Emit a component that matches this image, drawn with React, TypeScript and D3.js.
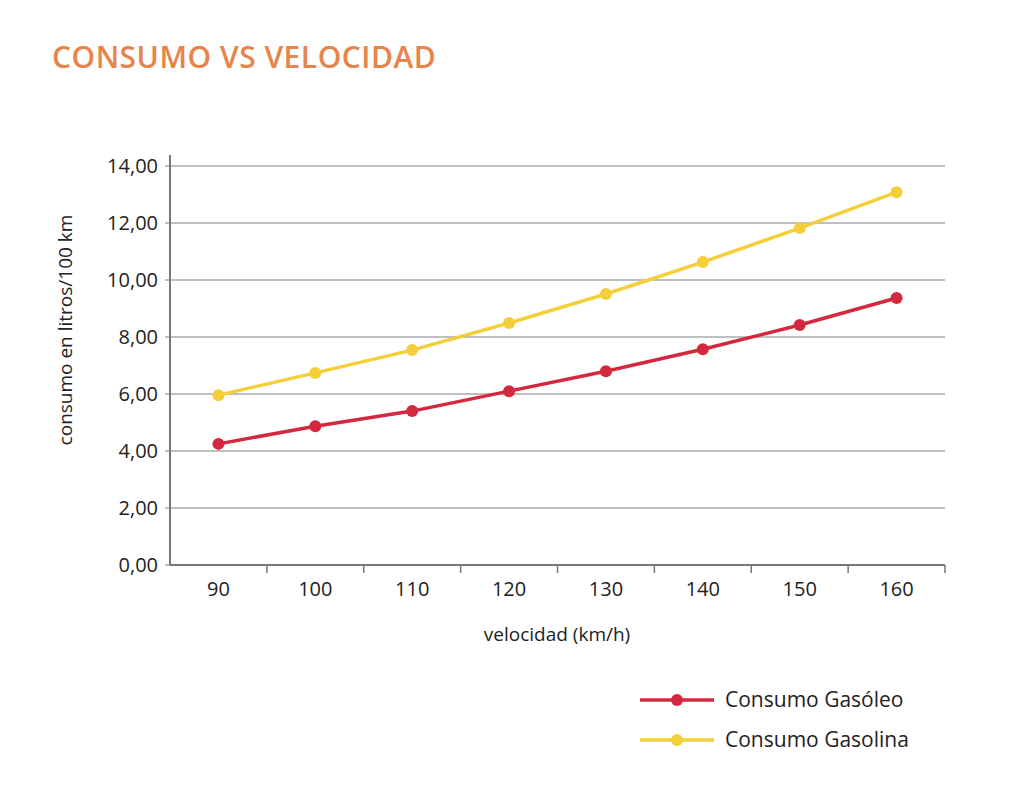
import * as d3 from 'd3';

const speeds = ['90', '100', '110', '120', '130', '140', '150', '160'];
const gasoleo = [4.25, 4.87, 5.4, 6.1, 6.8, 7.57, 8.42, 9.37];
const gasolina = [5.96, 6.74, 7.54, 8.49, 9.51, 10.63, 11.82, 13.08];
const yTicks = [0, 2, 4, 6, 8, 10, 12, 14];

const font = "'Open Sans', 'DejaVu Sans', sans-serif";
const red = '#d4283f';
const yellow = '#f5cf3a';

export default function App() {
  const x = d3.scaleBand().domain(speeds).range([170, 945]);
  const y = d3.scaleLinear().domain([0, 14]).range([565, 166]);
  const cx = (d: string) => (x(d) ?? 0) + x.bandwidth() / 2;
  const line = d3.line<number>().x((_, i) => cx(speeds[i])).y((v) => y(v));
  const series = [
    { name: 'Consumo Gasóleo', color: red, values: gasoleo },
    { name: 'Consumo Gasolina', color: yellow, values: gasolina },
  ];
  const fmt = (v: number) => v.toFixed(2).replace('.', ',');

  return (
    <svg width={1024} height={797} style={{ position: 'absolute', left: 0, top: 0, background: '#fff' }} fontFamily={font}>
      <text x={52} y={68} fontSize={30} fill="#e8834a" fontWeight={600} letterSpacing={0.5}>CONSUMO VS VELOCIDAD</text>
      {yTicks.map((t) => (
        <g key={t}>
          <line x1={165} x2={945} y1={y(t)} y2={y(t)} stroke="#aaa" strokeWidth={1.5} />
          <text x={158} y={y(t)} dy="0.35em" textAnchor="end" fontSize={20} fill="#222">{fmt(t)}</text>
        </g>
      ))}
      <line x1={170} x2={170} y1={155} y2={565} stroke="#777" strokeWidth={2} />
      <line x1={170} x2={945} y1={565} y2={565} stroke="#777" strokeWidth={2} />
      {speeds.map((s) => (
        <g key={s}>
          <line x1={(x(s) ?? 0) + x.bandwidth()} x2={(x(s) ?? 0) + x.bandwidth()} y1={565} y2={573} stroke="#777" strokeWidth={1.5} />
          <text x={cx(s)} y={596} textAnchor="middle" fontSize={20} fill="#222">{s}</text>
        </g>
      ))}
      <text x={557} y={641} textAnchor="middle" fontSize={19} fill="#222">velocidad (km/h)</text>
      <text transform="translate(72,330) rotate(-90)" textAnchor="middle" fontSize={19} fill="#222">consumo en litros/100 km</text>
      {series.map((s) => (
        <g key={s.name}>
          <path d={line(s.values) ?? ''} fill="none" stroke={s.color} strokeWidth={3.5} />
          {s.values.map((v, i) => (
            <circle key={i} cx={cx(speeds[i])} cy={y(v)} r={6} fill={s.color} />
          ))}
        </g>
      ))}
      {series.map((s, i) => (
        <g key={s.name} transform={`translate(640,${700 + i * 40})`}>
          <line x1={0} x2={74} stroke={s.color} strokeWidth={3.5} />
          <circle cx={37} r={6} fill={s.color} />
          <text x={85} dy="0.35em" fontSize={21} fill="#222">{s.name}</text>
        </g>
      ))}
    </svg>
  );
}
